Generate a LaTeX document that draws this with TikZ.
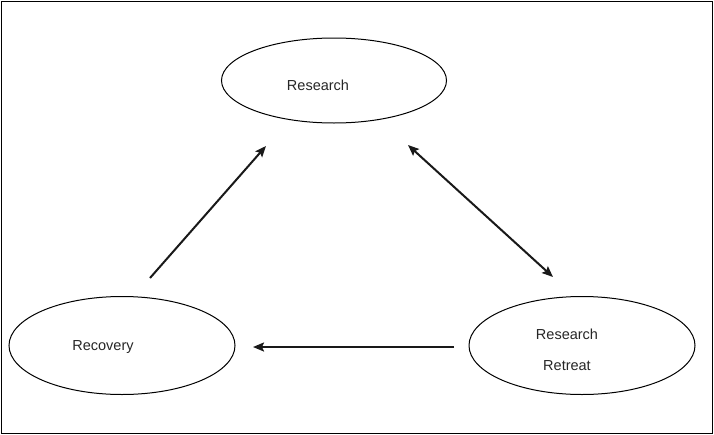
\documentclass[tikz,border=0pt]{standalone}
\usepackage{fontspec}
\setmainfont{Liberation Sans}
\usetikzlibrary{positioning, shapes, arrows.meta}
\tikzset{
	stage/.style={ellipse, draw=black, line width=1pt, inner sep=0pt},
	stageText/.style={text=black!85, font=\fontsize{14.5}{31}\selectfont, align=center, inner sep=0pt},
	flow/.style={line width=2pt, black!90, -{Stealth[length=11pt, width=9pt, inset=2pt]}},
	flowBoth/.style={line width=2pt, black!90, {Stealth[length=11pt, width=9pt, inset=2pt]}-{Stealth[length=11pt, width=9pt, inset=2pt]}}
}

\begin{document}
\begin{tikzpicture}[x=1pt, y=-1pt]
\useasboundingbox (0,0) rectangle (714,434);
\draw [line width=1pt] (1,1) rectangle (712,433);
% the three stages
\node [stage, minimum width=225pt, minimum height=85pt] (research) at (334,80.5) {};
\node [stage, minimum width=226pt, minimum height=98pt] (recovery) at (122,345.5) {};
\node [stage, minimum width=226pt, minimum height=98pt] (retreat) at (582,345.5) {};
\node [stageText] (researchT) at (318,85) {Research};
\node [stageText] (recoveryT) at (103,347) {Recovery};
\node [stageText] (retreatT) at (567,349.5) {Research\\Retreat};
% arrow ends
\coordinate (recUp) at (150,278);
\coordinate (resLeft) at (266,146);
\coordinate (resRight) at (408,145);
\coordinate (retUp) at (553,277);
\coordinate (retLeft) at (454,347);
\coordinate (recRight) at (253,347);
\draw [flow] (recUp) -- (resLeft);
\draw [flowBoth] (resRight) -- (retUp);
\draw [flow] (retLeft) -- (recRight);
\end{tikzpicture}
\end{document}
